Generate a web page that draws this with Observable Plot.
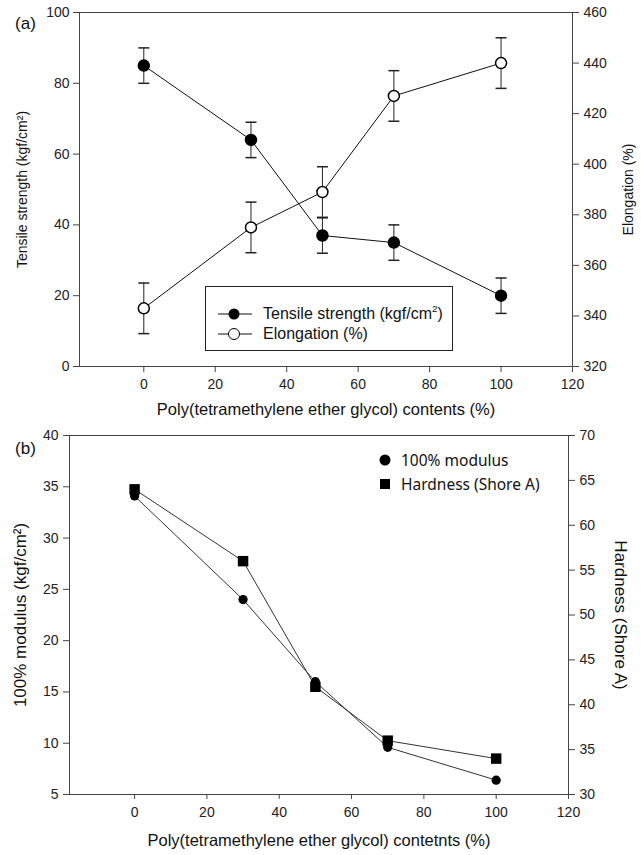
<!DOCTYPE html>
<html><head><meta charset="utf-8">
<script src="https://cdn.jsdelivr.net/npm/d3@7"></script>
<script src="https://cdn.jsdelivr.net/npm/@observablehq/plot@0.6"></script>
<style>
body{margin:0;background:#fff}
#c{position:relative;width:641px;height:855px}
#c svg{display:block}
.lg{position:absolute;font-family:'Liberation Sans',Arial,sans-serif;color:#111}
.lg .row{display:flex;align-items:center;white-space:nowrap}
.lg sup{font-size:0.62em;position:relative;top:-0.15em}
</style>
</head><body><div id="c"></div>
<script>
// ---- data ----
const contents = [0, 30, 50, 70, 100];
const tensile = [85, 64, 37, 35, 20];
const tensileErr = [5, 5, 5, 5, 5];
const elongation = [343, 375, 389, 427, 440];
const elongationErr = [10, 10, 10, 10, 10];
const modulus = [34.1, 24, 16, 9.6, 6.4];
const hardness = [64, 56, 42, 36, 34];
const xTicks = [0, 20, 40, 60, 80, 100, 120];
const tensileTicks = [0, 20, 40, 60, 80, 100];
const elongTicks = [320, 340, 360, 380, 400, 420, 440, 460];
const modulusTicks = [5, 10, 15, 20, 25, 30, 35, 40];
const hardnessTicks = [30, 35, 40, 45, 50, 55, 60, 65, 70];

// right-axis mapping into left scale
const eToL = e => (e - 320) / 140 * 100;
const lToE = v => 320 + v * 1.4;
const hToL = h => 5 + (h - 30) * 35 / 40;
const lToH = v => 30 + (v - 5) * 40 / 35;

const cap = {draw(ctx, size){ const r = Math.sqrt(size / Math.PI); ctx.moveTo(-r, 0); ctx.lineTo(r, 0); }};

const topRows = contents.map((c, i) => ({
  c, t: tensile[i], tlo: tensile[i] - tensileErr[i], thi: tensile[i] + tensileErr[i],
  e: eToL(elongation[i]), elo: eToL(elongation[i] - elongationErr[i]), ehi: eToL(elongation[i] + elongationErr[i])
}));
const botRows = contents.map((c, i) => ({c, m: modulus[i], h: hToL(hardness[i])}));

const font = "'Liberation Sans', Arial, sans-serif";
const baseStyle = {fontFamily: font, fontSize: "14px", color: "#222", background: "white"};

const chartA = Plot.plot({
  width: 641, height: 425,
  marginTop: 12, marginLeft: 79, marginRight: 69, marginBottom: 59,
  style: baseStyle,
  x: {domain: [-18, 120]},
  y: {domain: [0, 100]},
  marks: [
    Plot.frame({stroke: "#444"}),
    Plot.axisX(xTicks, {tickSize: 6, tickPadding: 7, label: null, stroke: "#444"}),
    Plot.axisY(tensileTicks, {anchor: "left", tickSize: 6, tickPadding: 4, label: null, stroke: "#444"}),
    Plot.axisY(elongTicks.map(eToL), {anchor: "right", tickSize: 6, tickPadding: 5, label: null, stroke: "#444",
      tickFormat: d => String(Math.round(lToE(d)))}),
    Plot.ruleX(topRows, {x: "c", y1: "tlo", y2: "thi", stroke: "#222"}),
    Plot.dot(topRows, {x: "c", y: "tlo", symbol: cap, r: 5.5, fill: "none", stroke: "#222"}),
    Plot.dot(topRows, {x: "c", y: "thi", symbol: cap, r: 5.5, fill: "none", stroke: "#222"}),
    Plot.ruleX(topRows, {x: "c", y1: "elo", y2: "ehi", stroke: "#222"}),
    Plot.dot(topRows, {x: "c", y: "elo", symbol: cap, r: 5.5, fill: "none", stroke: "#222"}),
    Plot.dot(topRows, {x: "c", y: "ehi", symbol: cap, r: 5.5, fill: "none", stroke: "#222"}),
    Plot.line(topRows, {x: "c", y: "t", stroke: "#111", strokeWidth: 1}),
    Plot.line(topRows, {x: "c", y: "e", stroke: "#111", strokeWidth: 1}),
    Plot.dot(topRows, {x: "c", y: "t", r: 5.5, fill: "black", stroke: "black"}),
    Plot.dot(topRows, {x: "c", y: "e", r: 5.5, fill: "white", stroke: "black"}),
    Plot.text(["(a)"], {frameAnchor: "top-left", dx: -54, dy: 4, fontSize: 17, fill: "#111", textAnchor: "middle"}),
    Plot.text(["Poly(tetramethylene ether glycol) contents (%)"], {frameAnchor: "bottom", dy: 48, fontSize: 16.5, fill: "#111", textAnchor: "middle"}),
    Plot.text(["Tensile strength (kgf/cm²)"], {frameAnchor: "left", dx: -57, rotate: -90, fontSize: 14, fill: "#111", textAnchor: "middle"}),
    Plot.text(["Elongation (%)"], {frameAnchor: "right", dx: 56, rotate: -90, fontSize: 14, fill: "#111", textAnchor: "middle"})
  ]
});

const chartB = Plot.plot({
  width: 641, height: 430,
  marginTop: 10, marginLeft: 69, marginRight: 73, marginBottom: 61,
  style: baseStyle,
  x: {domain: [-18, 120]},
  y: {domain: [5, 40]},
  marks: [
    Plot.frame({stroke: "#444"}),
    Plot.axisX(xTicks, {tickSize: 5, tickPadding: 8, label: null, stroke: "#444"}),
    Plot.axisY(modulusTicks, {anchor: "left", tickSize: 6, tickPadding: 5, label: null, stroke: "#444"}),
    Plot.axisY(hardnessTicks.map(hToL), {anchor: "right", tickSize: 6, tickPadding: 5, label: null, stroke: "#444",
      tickFormat: d => String(Math.round(lToH(d)))}),
    Plot.line(botRows, {x: "c", y: "m", stroke: "#333", strokeWidth: 1}),
    Plot.line(botRows, {x: "c", y: "h", stroke: "#333", strokeWidth: 1}),
    Plot.dot(botRows, {x: "c", y: "m", r: 4.6, fill: "black", stroke: "none"}),
    Plot.dot(botRows, {x: "c", y: "h", r: 5.9, symbol: "square", fill: "black", stroke: "none"}),
    Plot.text(["(b)"], {frameAnchor: "top-left", dx: -44, dy: 6, fontSize: 17, fill: "#111", textAnchor: "middle"}),
    Plot.text(["Poly(tetramethylene ether glycol) contetnts (%)"], {frameAnchor: "bottom", dy: 51, fontSize: 16.5, fill: "#111", textAnchor: "middle"}),
    Plot.text(["100% modulus (kgf/cm²)"], {frameAnchor: "left", dx: -49, rotate: -90, fontSize: 17, fill: "#111", textAnchor: "middle"}),
    Plot.text(["Hardness (Shore A)"], {frameAnchor: "right", dx: 52, rotate: 90, fontSize: 17, fill: "#111", textAnchor: "middle"})
  ]
});

const holder = document.getElementById("c");
holder.appendChild(chartA);
holder.appendChild(chartB);

// legend (a)
const la = document.createElement("div");
la.className = "lg";
la.style.cssText = "left:205px;top:286px;width:248px;height:65px;border:1px solid #222;font-size:16px;padding:0;box-sizing:border-box;";
la.innerHTML = `
<div class="row" style="position:absolute;left:11px;top:17px;"><svg width="36" height="14"><line x1="1" y1="7" x2="35" y2="7" stroke="#111"/><circle cx="17" cy="7" r="5.5" fill="black"/></svg><span style="margin-left:10px">Tensile strength (kgf/cm<sup>2</sup>)</span></div>
<div class="row" style="position:absolute;left:11px;top:38px;"><svg width="36" height="14"><line x1="1" y1="7" x2="35" y2="7" stroke="#111"/><circle cx="17" cy="7" r="5.5" fill="white" stroke="black"/></svg><span style="margin-left:10px">Elongation (%)</span></div>`;
holder.appendChild(la);

// legend (b)
const lb = document.createElement("div");
lb.className = "lg";
lb.style.cssText = "left:378px;top:448px;font-family:'Noto Sans',sans-serif;font-size:15.5px;";
lb.innerHTML = `
<div class="row" style="height:24px"><svg width="14" height="14"><circle cx="7" cy="7" r="5.5" fill="black"/></svg><span style="margin-left:9px">100% modulus</span></div>
<div class="row" style="height:24px"><svg width="14" height="14"><rect x="2" y="2" width="10" height="10" fill="black"/></svg><span style="margin-left:9px">Hardness (Shore A)</span></div>`;
holder.appendChild(lb);
</script>
</body></html>
